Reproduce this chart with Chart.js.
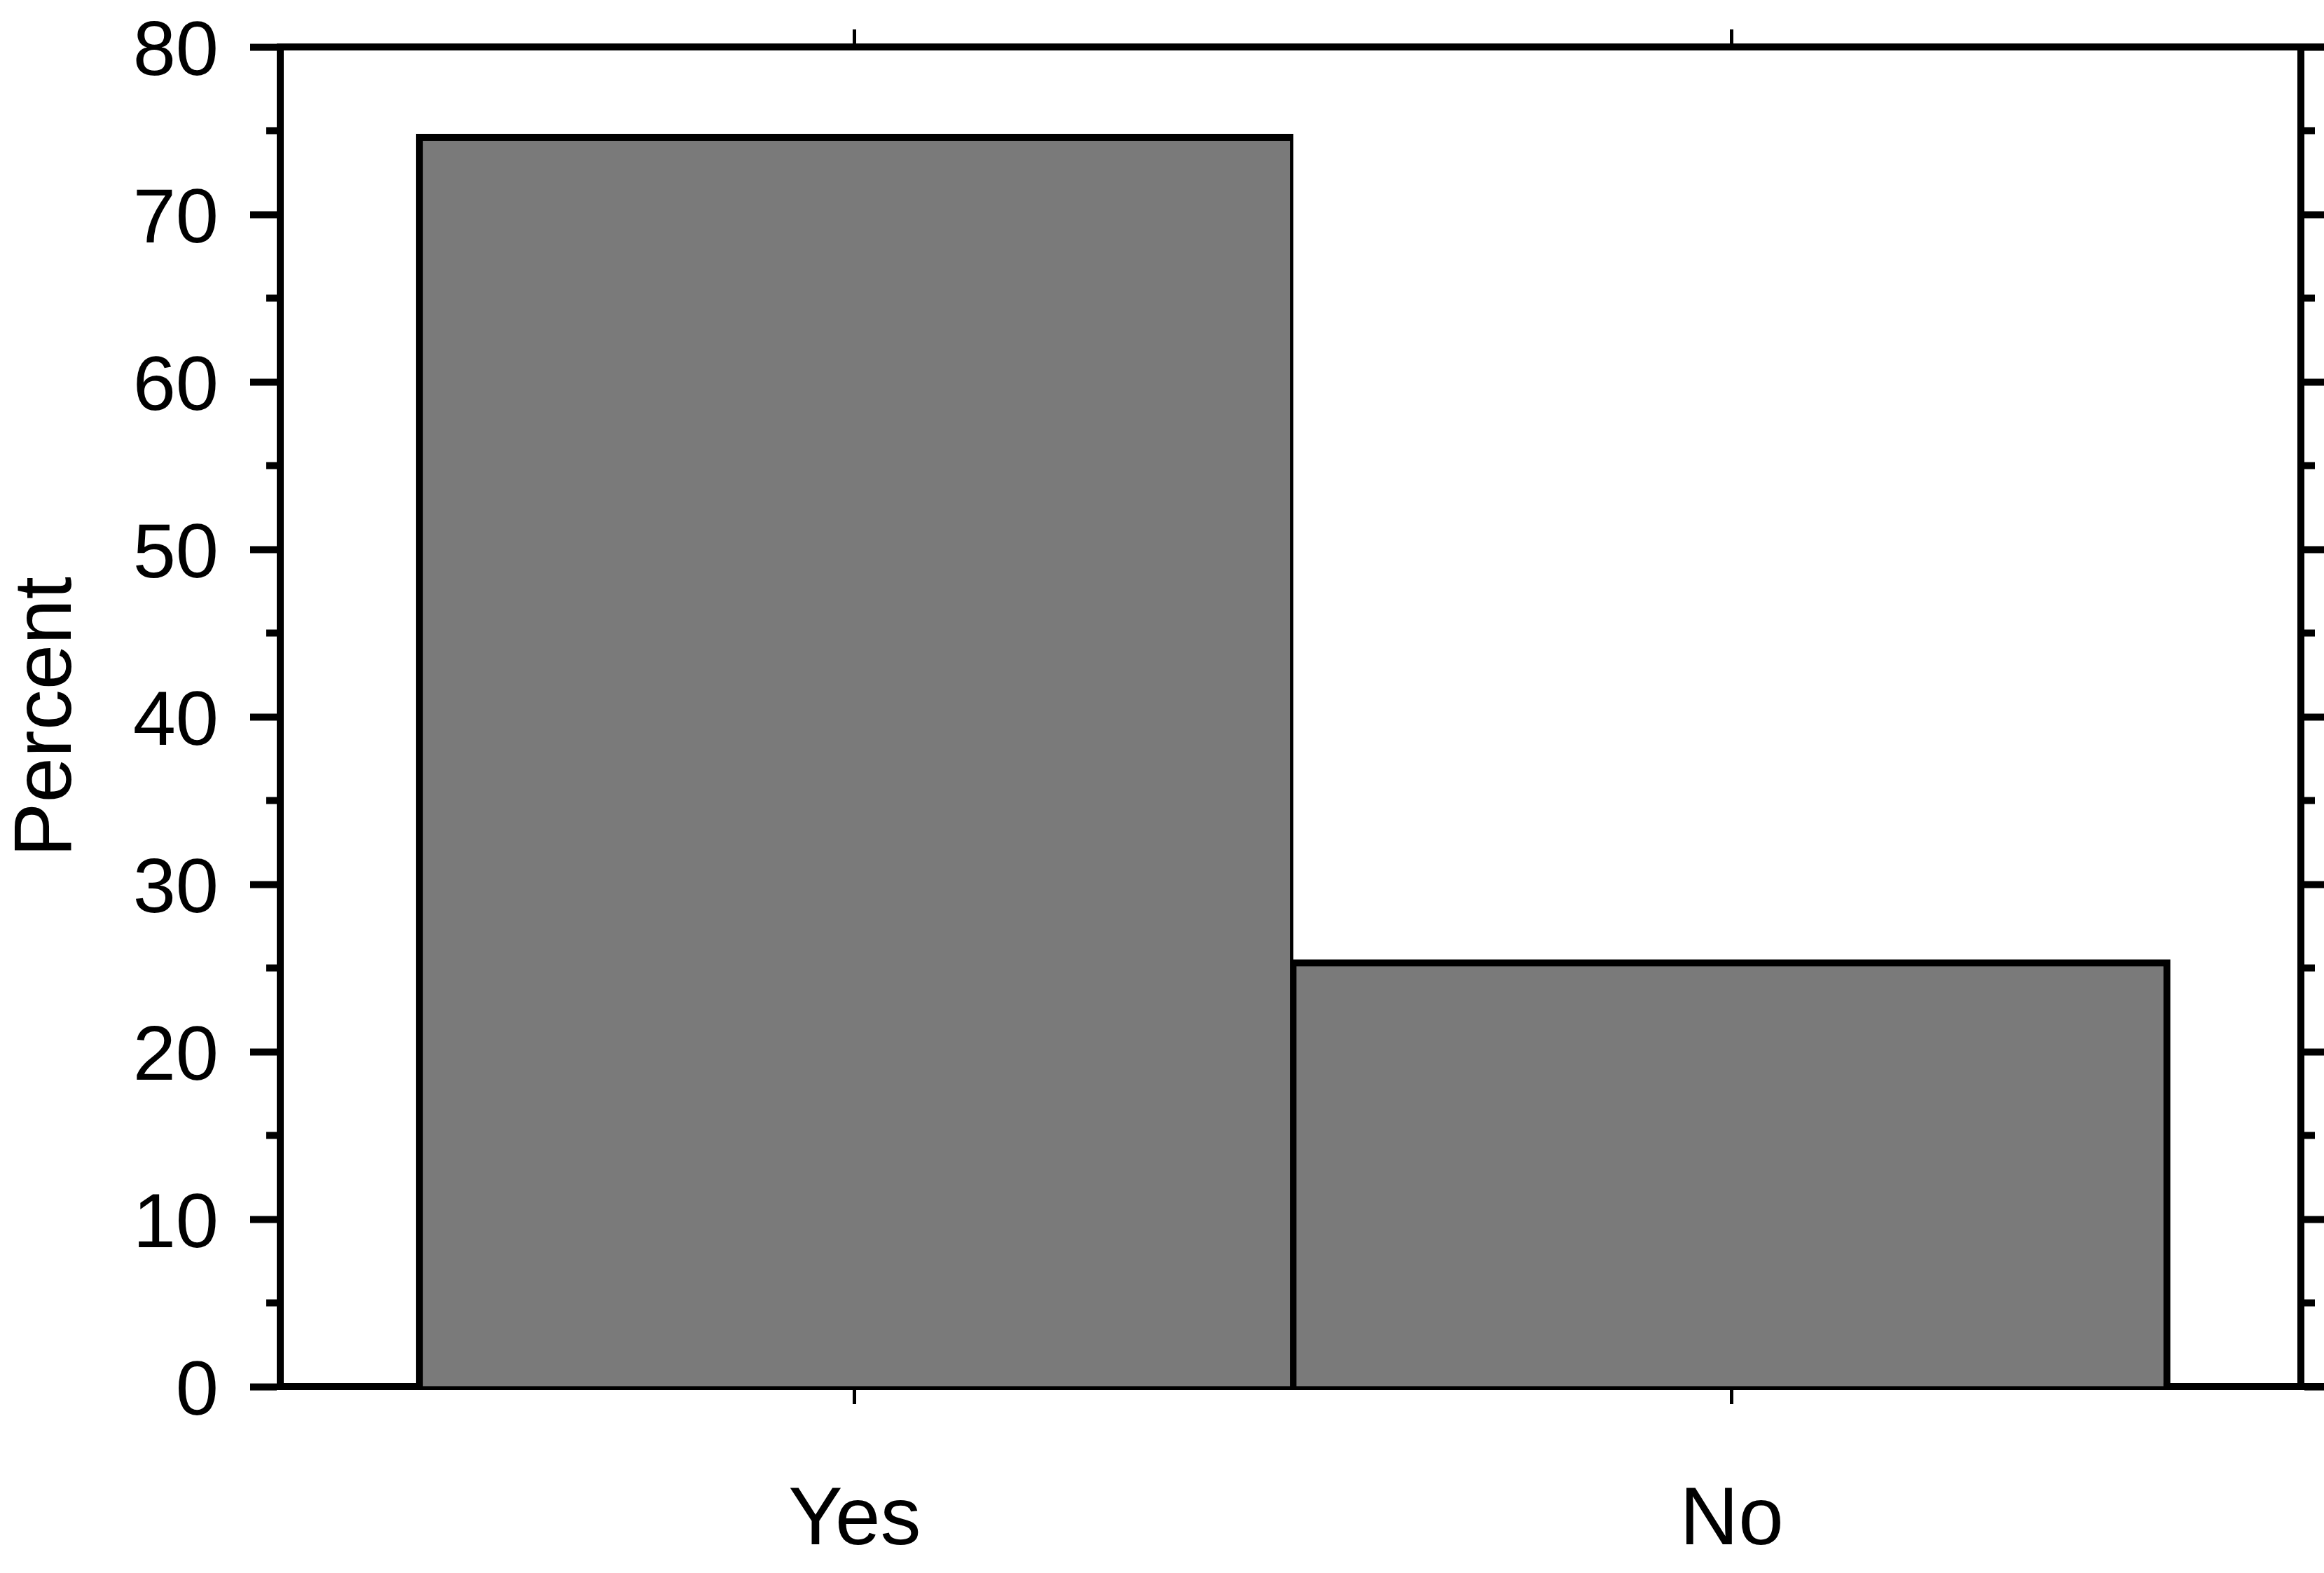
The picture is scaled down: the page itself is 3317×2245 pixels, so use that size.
<!DOCTYPE html>
<html>
<head>
<meta charset="utf-8">
<title>Percent by answer</title>
<script src="https://cdn.jsdelivr.net/npm/chart.js@4.4.1/dist/chart.umd.min.js"></script>
<style>
  html, body { margin: 0; padding: 0; background: #ffffff; }
  #wrap { width: 3317px; height: 2245px; }
</style>
</head>
<body>
<div id="wrap"><canvas id="chart" width="3317" height="2245"></canvas></div>
<script>
const categories = ['Yes', 'No'];
const percents = [74.8, 25.5];
const yTicks = [0, 10, 20, 30, 40, 50, 60, 70, 80];
const yMinorTicks = [5, 15, 25, 35, 45, 55, 65, 75];

const FONT = "'Liberation Sans', Arial, sans-serif";
const INK = '#000000';

// bars sit at x = 1, 2 ... on a linear axis so the frame can be wider than the bars
const xMin = 0.345;
const xMax = 2.649;

function barBorder(ctx) {
  const last = categories.length - 1;
  return {
    top: 10,
    bottom: 0,
    left: ctx.dataIndex === 0 ? 10 : 5,
    right: ctx.dataIndex === last ? 10 : 5
  };
}

function categoryTicks(axis) {
  axis.ticks = categories.map((c, i) => ({ value: i + 1 }));
}

function valueTicks(axis) {
  axis.ticks = yTicks.map(v => ({ value: v }));
}

// minor ticks and the frame lines that run past the right axis
const frameExtras = {
  id: 'frameExtras',
  afterDraw(chart) {
    const { ctx, chartArea, scales } = chart;
    const y = scales.y;
    ctx.save();
    ctx.strokeStyle = INK;
    ctx.lineWidth = 10;
    ctx.lineCap = 'butt';
    yMinorTicks.forEach(v => {
      const py = y.getPixelForValue(v);
      ctx.beginPath();
      ctx.moveTo(chartArea.left - 20, py);
      ctx.lineTo(chartArea.left, py);
      ctx.moveTo(chartArea.right, py);
      ctx.lineTo(chartArea.right + 20, py);
      ctx.stroke();
    });
    [y.getPixelForValue(yTicks[yTicks.length - 1]), y.getPixelForValue(yTicks[0])].forEach(py => {
      ctx.beginPath();
      ctx.moveTo(chartArea.right, py);
      ctx.lineTo(chart.width, py);
      ctx.stroke();
    });
    ctx.restore();
  }
};

const tickGrid = (len, width) => ({
  offset: false,
  drawOnChartArea: false,
  drawTicks: true,
  tickLength: len,
  tickWidth: width,
  tickColor: INK
});

const canvas = document.getElementById('chart');
new Chart(canvas.getContext('2d'), {
  type: 'bar',
  data: {
    datasets: [{
      data: categories.map((c, i) => ({ x: i + 1, y: percents[i] })),
      backgroundColor: '#7a7a7a',
      borderColor: INK,
      borderWidth: barBorder,
      borderSkipped: 'start',
      barPercentage: 1,
      categoryPercentage: 1
    }]
  },
  options: {
    responsive: false,
    devicePixelRatio: 1,
    animation: false,
    layout: { padding: { top: 42, right: 0, bottom: 0, left: 0 } },
    plugins: {
      legend: { display: false },
      tooltip: { enabled: false }
    },
    scales: {
      x: {
        type: 'linear',
        position: 'bottom',
        offset: false,
        min: xMin,
        max: xMax,
        afterBuildTicks: categoryTicks,
        afterFit: scale => { scale.height = 266; },
        grid: tickGrid(25, 5),
        border: { display: true, color: INK, width: 10 },
        ticks: {
          color: INK,
          font: { family: FONT, size: 116, lineHeight: 1 },
          padding: 110,
          maxRotation: 0,
          autoSkip: false,
          callback: v => categories[v - 1] ?? ''
        }
      },
      x2: {
        type: 'linear',
        position: 'top',
        offset: false,
        min: xMin,
        max: xMax,
        afterBuildTicks: categoryTicks,
        grid: tickGrid(25, 5),
        border: { display: true, color: INK, width: 10 },
        ticks: { display: false }
      },
      y: {
        position: 'left',
        min: yTicks[0],
        max: yTicks[yTicks.length - 1],
        afterBuildTicks: valueTicks,
        afterFit: scale => {
          scale.width = 400;
          scale.paddingTop = 0;
          scale.paddingBottom = 0;
        },
        grid: tickGrid(43, 10),
        border: { display: true, color: INK, width: 10 },
        ticks: {
          color: INK,
          font: { family: FONT, size: 110, lineHeight: 1 },
          padding: 45,
          labelOffset: 10
        },
        title: {
          display: true,
          text: 'Percent',
          color: INK,
          font: { family: FONT, size: 116, lineHeight: 1 },
          padding: { top: 11, bottom: 0 }
        }
      },
      y2: {
        position: 'right',
        min: yTicks[0],
        max: yTicks[yTicks.length - 1],
        afterBuildTicks: valueTicks,
        grid: tickGrid(33, 10),
        border: { display: true, color: INK, width: 10 },
        ticks: { display: false }
      }
    }
  },
  plugins: [frameExtras]
});
</script>
</body>
</html>
